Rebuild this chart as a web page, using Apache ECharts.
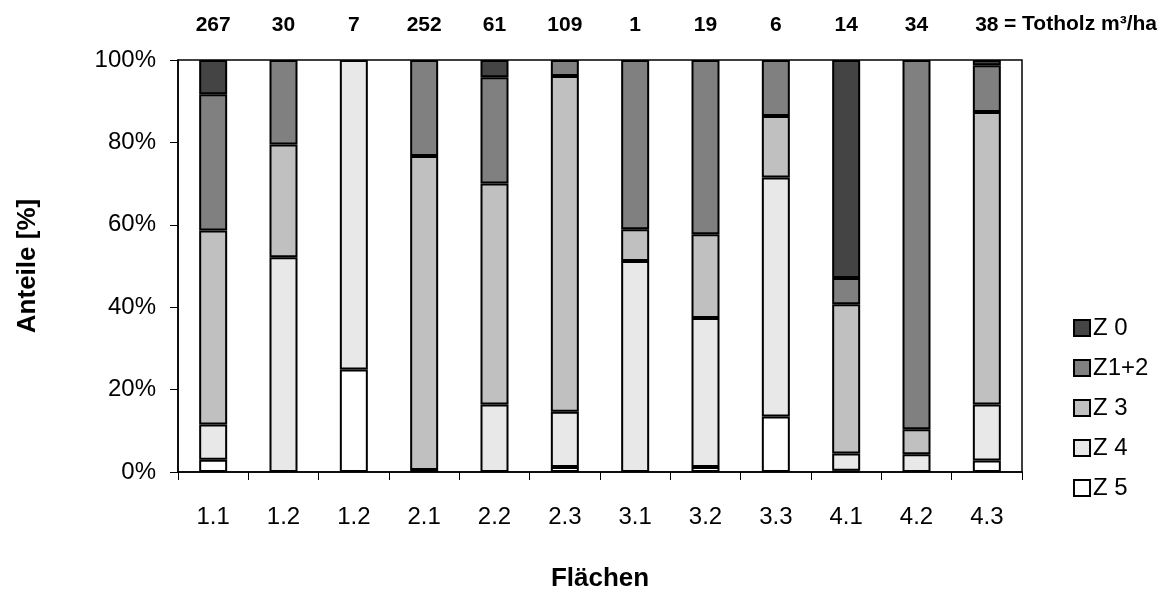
<!DOCTYPE html>
<html>
<head>
<meta charset="utf-8">
<script src="https://cdn.jsdelivr.net/npm/echarts@6/dist/echarts.min.js"></script>
<style>
html,body{margin:0;padding:0;background:#fff;}
#c{width:1171px;height:592px;}
</style>
</head>
<body>
<div id="c"></div>
<script>
const categories = ['1.1','1.2','1.2','2.1','2.2','2.3','3.1','3.2','3.3','4.1','4.2','4.3'];
const totholz = ['267','30','7','252','61','109','1','19','6','14','34','38'];
const yTicks = [0,20,40,60,80,100];
const z5  = [3.0, null, 24.9, null, null, 1.2, null, 1.2, 13.5, 0.3, null, 2.8];
const z4  = [8.5, 52.1, 75.1, 0.5, 16.4, 13.4, 51.2, 36.2, 58.0, 4.2, 4.3, 13.6];
const z3  = [47.1, 27.4, null, 76.2, 53.6, 81.5, 7.7, 20.3, 14.9, 36.2, 6.1, 71.0];
const z12 = [33.1, 20.5, null, 23.3, 25.8, 3.9, 41.1, 42.3, 13.6, 6.4, 89.6, 11.3];
const z0  = [8.3, null, null, null, 4.2, null, null, null, null, 52.9, null, 1.3];

const FONT = 'Liberation Sans, Arial, sans-serif';
const chart = echarts.init(document.getElementById('c'), null, {renderer:'canvas'});

function mk(name, data, color){
  return {
    name, type:'bar', stack:'all', data, barWidth:28,
    itemStyle:{color, borderColor:'#000', borderWidth:2},
    emphasis:{disabled:true}
  };
}

chart.setOption({
  animation:false,
  backgroundColor:'#fff',
  grid:{left:178, right:149, top:60, bottom:120, outerBoundsMode:'none', containLabel:false,
        show:true, borderColor:'#000', borderWidth:1.5, backgroundColor:'transparent'},
  legend:{
    orient:'vertical', left:1068, top:311,
    data:['Z 0','Z1+2','Z 3','Z 4','Z 5'],
    itemWidth:16, itemHeight:16, itemGap:16,
    icon:'rect',
    textStyle:{fontFamily:FONT, fontSize:24, color:'#000', padding:[0,0,0,-2]}
  },
  xAxis:[{
    type:'category', data:categories, position:'bottom',
    axisLine:{lineStyle:{color:'#000', width:1.5}},
    axisTick:{show:true, length:8, lineStyle:{color:'#000', width:1}},
    axisLabel:{fontFamily:FONT, fontSize:24, color:'#000', margin:33},
    name:'Flächen', nameLocation:'middle', nameGap:94,
    nameTextStyle:{fontFamily:FONT, fontSize:26, fontWeight:'bold', color:'#000'}
  },{
    type:'category', data:totholz, position:'top',
    axisLine:{show:false}, axisTick:{show:false},
    axisLabel:{fontFamily:FONT, fontSize:21, fontWeight:'bold', color:'#000', margin:24}
  }],
  yAxis:{
    type:'value', min:yTicks[0], max:yTicks[yTicks.length-1], interval:20,
    axisLine:{show:true, lineStyle:{color:'#000', width:1.5}},
    axisTick:{show:true, length:8, lineStyle:{color:'#000', width:1}},
    splitLine:{show:false},
    axisLabel:{fontFamily:FONT, fontSize:24, color:'#000', margin:22, formatter:'{value}%'},
    name:'Anteile [%]', nameLocation:'middle', nameGap:137,
    nameTextStyle:{fontFamily:FONT, fontSize:26, fontWeight:'bold', color:'#000'}
  },
  graphic:[{
    type:'text', left:1004, top:14,
    style:{text:'= Totholz m³/ha', fontFamily:FONT, fontSize:21, fontWeight:'bold', fill:'#000'}
  }],
  series:[
    mk('Z 5', z5, '#ffffff'),
    mk('Z 4', z4, '#e8e8e8'),
    mk('Z 3', z3, '#c0c0c0'),
    mk('Z1+2', z12, '#808080'),
    mk('Z 0', z0, '#444444')
  ]
});
</script>
</body>
</html>
